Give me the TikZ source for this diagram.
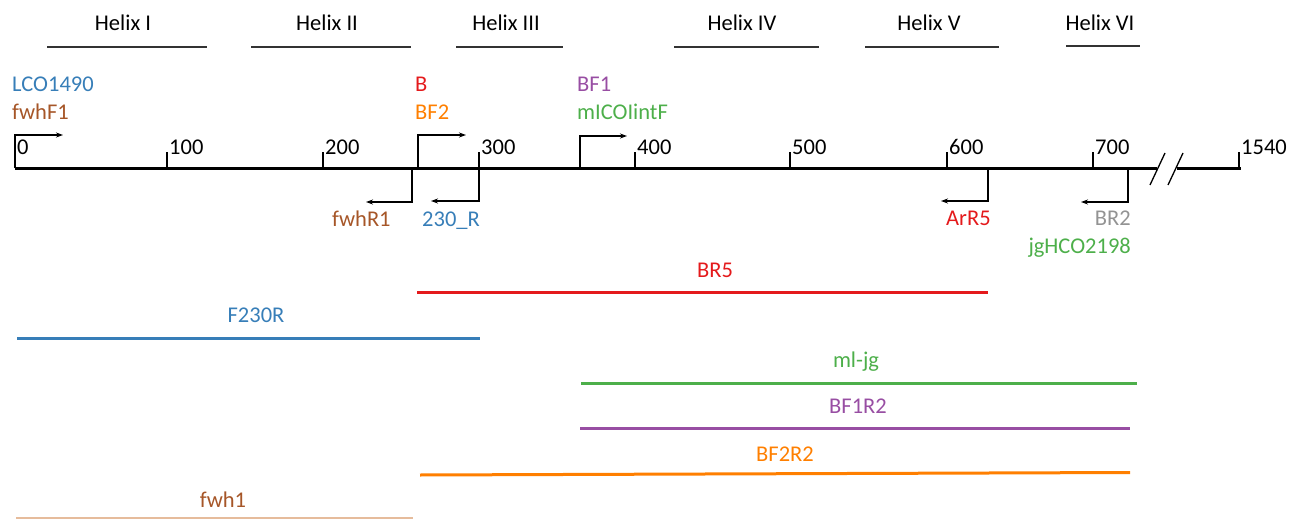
\documentclass[tikz,border=0pt]{standalone}
\usepackage{fontspec}
\setmainfont{Carlito}
\usetikzlibrary{arrows.meta}

% ColorBrewer Set1 palette
\definecolor{cred}{HTML}{E41A1C}
\definecolor{cblue}{HTML}{377EB8}
\definecolor{cgreen}{HTML}{4DAF4A}
\definecolor{cpurple}{HTML}{984EA3}
\definecolor{corange}{HTML}{FF7F00}
\definecolor{cbrown}{HTML}{A65628}
\definecolor{cgray}{HTML}{939393}
\definecolor{ctan}{HTML}{E6BC9C}
\definecolor{chelix}{HTML}{333333}

\begin{document}
\begin{tikzpicture}[x=1pt,y=-1pt,
  txt/.style={inner sep=0pt, font=\fontsize{22.5}{27}\selectfont},
  lbl/.style={txt, anchor=base west},
  lblc/.style={txt, anchor=base},
  axisline/.style={line width=3pt, black},
  tickmark/.style={line width=1.3pt, black},
  breakmark/.style={line width=1.3pt, black},
  primer/.style={line width=1.5pt, black, -{Stealth[length=7pt,width=5pt]}},
  helixbar/.style={line width=2pt, chelix},
  amplicon/.style={line width=3pt}]
\useasboundingbox (0,0) rectangle (1302,519);

% helix positions
\node[lblc] (h1) at (123,31) {Helix I};
\node[lblc] (h2) at (327,31) {Helix II};
\node[lblc] (h3) at (506,31) {Helix III};
\node[lblc] (h4) at (742,31) {Helix IV};
\node[lblc] (h5) at (929,31) {Helix V};
\node[lblc] (h6) at (1100,31) {Helix VI};
\draw[helixbar] (47,47) -- (207,47);
\draw[helixbar] (251,47) -- (411,47);
\draw[helixbar] (456,47) -- (563,47);
\draw[helixbar] (674,47) -- (819,47);
\draw[helixbar] (865,47) -- (999,47);
\draw[helixbar] (1066,46) -- (1140,46);

% sequence axis with break
\draw[axisline] (15,168) -- (1157,168);
\draw[axisline] (1177,168) -- (1241,168);
\draw[breakmark] (1150,185) -- (1165,153);
\draw[breakmark] (1168,185) -- (1183,153);

% ticks and scale labels
\foreach \x in {167,323,479,635,790,947,1093,1239}
  \draw[tickmark] (\x,168) -- (\x,152);
\node[lbl] (t0) at (17,154) {0};
\node[lbl] (t100) at (169,154) {100};
\node[lbl] (t200) at (325,154) {200};
\node[lbl] (t300) at (481,154) {300};
\node[lbl] (t400) at (637,154) {400};
\node[lbl] (t500) at (792,154) {500};
\node[lbl] (t600) at (949,154) {600};
\node[lbl] (t700) at (1095,154) {700};
\node[lbl] (t1540) at (1241,154) {1540};

% forward primers
\coordinate (f1) at (15,168);   \coordinate (f1e) at (63,135);
\coordinate (f2) at (418,168);  \coordinate (f2e) at (466,135);
\coordinate (f3) at (580,168);  \coordinate (f3e) at (627,136);
\draw[primer] (f1) |- (f1e);
\draw[primer] (f2) |- (f2e);
\draw[primer] (f3) |- (f3e);

\node[lbl, text=cblue] (lco) at (12,92) {LCO1490};
\node[lbl, text=cbrown] (fwhF1) at (12,120) {fwhF1};
\node[lbl, text=cred] (pB) at (415,92) {B};
\node[lbl, text=corange] (bf2) at (415,120) {BF2};
\node[lbl, text=cpurple] (bf1) at (577,92) {BF1};
\node[lbl, text=cgreen] (mico) at (577,120) {mICOIintF};

% reverse primers
\coordinate (r1) at (412,168);  \coordinate (r1e) at (366,202);
\coordinate (r2) at (479,168);  \coordinate (r2e) at (431,201);
\coordinate (r3) at (988,168);  \coordinate (r3e) at (941,201);
\coordinate (r4) at (1128,168); \coordinate (r4e) at (1081,202);
\draw[primer] (r1) |- (r1e);
\draw[primer] (r2) |- (r2e);
\draw[primer] (r3) |- (r3e);
\draw[primer] (r4) |- (r4e);

\node[lbl, text=cbrown] (fwhR1) at (332,226) {fwhR1};
\node[lbl, text=cblue] (r230) at (422,226) {230\_R};
\node[lbl, text=cred] (arr5) at (946,225) {ArR5};
\node[txt, anchor=base east, text=cgray] (br2) at (1131,225) {BR2};
\node[txt, anchor=base east, text=cgreen] (jg) at (1131,253) {jgHCO2198};

% amplicons
\node[lblc, text=cred] (ampBR5) at (715,277) {BR5};
\draw[amplicon, cred] (417,292) -- (988,292);
\node[lblc, text=cblue] (ampF230R) at (256,322) {F230R};
\draw[amplicon, cblue] (17,338) -- (480,338);
\node[lblc, text=cgreen] (ampMLJG) at (856,367) {ml-jg};
\draw[amplicon, cgreen] (581,383) -- (1137,383);
\node[lblc, text=cpurple] (ampBF1R2) at (858,413) {BF1R2};
\draw[amplicon, cpurple] (580,428) -- (1130,428);
\node[lblc, text=corange] (ampBF2R2) at (785,461) {BF2R2};
\draw[amplicon, corange] (420,475) -- (1130,472.5);
\node[lblc, text=cbrown] (ampFWH1) at (223,507) {fwh1};
\draw[line width=1.6pt, ctan] (16,518) -- (413,518);
\end{tikzpicture}
\end{document}
